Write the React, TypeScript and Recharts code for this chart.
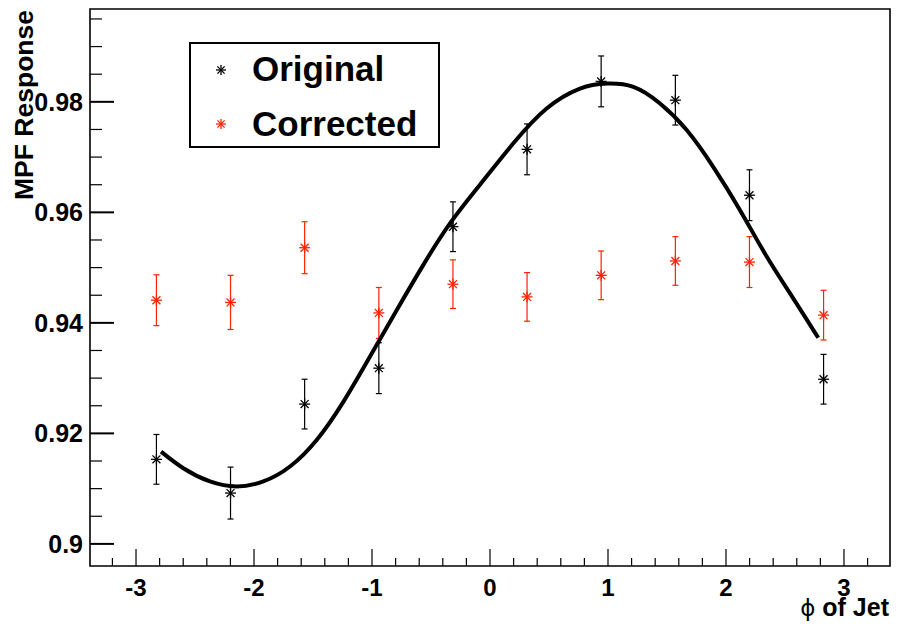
import React from 'react';
import {
  ComposedChart,
  Scatter,
  Line,
  XAxis,
  YAxis,
  ErrorBar,
  ReferenceArea,
  Legend,
} from 'recharts';

// ---- data ----
const phiBins = [-2.827, -2.199, -1.571, -0.942, -0.314, 0.314, 0.942, 1.571, 2.199, 2.827];
const originalValues = [0.9153, 0.9092, 0.9253, 0.9318, 0.9574, 0.9714, 0.9837, 0.9803, 0.9631, 0.9298];
const originalErrors = [0.0045, 0.0047, 0.0045, 0.0046, 0.0045, 0.0046, 0.0046, 0.0045, 0.0046, 0.0045];
const correctedValues = [0.9441, 0.9437, 0.9536, 0.9418, 0.947, 0.9447, 0.9486, 0.9512, 0.951, 0.9414];
const correctedErrors = [0.0046, 0.0049, 0.0047, 0.0046, 0.0044, 0.0044, 0.0044, 0.0044, 0.0046, 0.0045];

const fitPhi = [
  -2.788, -2.599, -2.373, -2.147, -1.921, -1.695, -1.469, -1.243, -1.017, -0.791, -0.565, -0.339,
  -0.085, 0.198, 0.48, 0.763, 0.989, 1.215, 1.441, 1.667, 1.893, 2.119, 2.345, 2.571, 2.782,
];
const fitValues = [
  0.9167, 0.9137, 0.9113, 0.9104, 0.9113, 0.914, 0.9188, 0.9257, 0.9339, 0.9423, 0.9505, 0.958,
  0.965, 0.9725, 0.9788, 0.9824, 0.9833, 0.9827, 0.9797, 0.9749, 0.9682, 0.9604, 0.952,
  0.9444, 0.9373,
];

const xMajorTicks = [-3, -2, -1, 0, 1, 2, 3];
const xTickLabels = ['-3', '-2', '-1', '0', '1', '2', '3'];
const xAllTicks = [
  -3.2, -3, -2.8, -2.6, -2.4, -2.2, -2, -1.8, -1.6, -1.4, -1.2, -1, -0.8, -0.6, -0.4, -0.2, 0,
  0.2, 0.4, 0.6, 0.8, 1, 1.2, 1.4, 1.6, 1.8, 2, 2.2, 2.4, 2.6, 2.8, 3, 3.2,
];
const yMajorTicks = [0.9, 0.92, 0.94, 0.96, 0.98];
const yTickLabels = ['0.9', '0.92', '0.94', '0.96', '0.98'];
const yAllTicks = [
  0.9, 0.905, 0.91, 0.915, 0.92, 0.925, 0.93, 0.935, 0.94, 0.945, 0.95, 0.955, 0.96, 0.965, 0.97,
  0.975, 0.98, 0.985, 0.99, 0.995,
];

const seriesNames = ['Original', 'Corrected'];
const seriesColors = ['#000000', '#ff2200'];

// tables built from arrays
const originalData = phiBins.map((x, i) => ({ x, y: originalValues[i], e: originalErrors[i] }));
const correctedData = phiBins.map((x, i) => ({ x, y: correctedValues[i], e: correctedErrors[i] }));
const fitData = fitPhi.map((x, i) => ({ x, y: fitValues[i] }));

const X_DOMAIN: [number, number] = [-3.39, 3.39];
const Y_DOMAIN: [number, number] = [0.896, 0.9968];
const FONT = '"Liberation Sans", Arial, Helvetica, sans-serif';

const findIndex = (arr: number[], v: number) => arr.findIndex((t) => Math.abs(t - v) < 1e-6);

const XTick = (props: any) => {
  const { x, y, payload } = props;
  const idx = findIndex(xMajorTicks, payload.value);
  const major = idx >= 0;
  return (
    <g>
      <line x1={x} x2={x} y1={y} y2={y - (major ? 17 : 8)} stroke="#000" strokeWidth={1.2} />
      {major && (
        <text
          x={x}
          y={y + 30}
          textAnchor="middle"
          fontFamily={FONT}
          fontWeight="bold"
          fontSize={24}
          fill="#000"
        >
          {xTickLabels[idx]}
        </text>
      )}
    </g>
  );
};

const YTick = (props: any) => {
  const { x, y, payload } = props;
  const idx = findIndex(yMajorTicks, payload.value);
  const major = idx >= 0;
  return (
    <g>
      <line x1={x} x2={x + (major ? 24 : 12)} y1={y} y2={y} stroke="#000" strokeWidth={major ? 2 : 1.2} />
      {major && (
        <text
          x={x - 7}
          y={y + 9}
          textAnchor="end"
          fontFamily={FONT}
          fontWeight="bold"
          fontSize={25}
          fill="#000"
        >
          {yTickLabels[idx]}
        </text>
      )}
    </g>
  );
};

const Asterisk = ({ cx, cy, color, r }: any) => {
  if (cx == null || cy == null) return null;
  const d = r * 0.72;
  return (
    <g stroke={color} strokeWidth={1.3}>
      <line x1={cx - r} x2={cx + r} y1={cy} y2={cy} />
      <line x1={cx} x2={cx} y1={cy - r} y2={cy + r} />
      <line x1={cx - d} x2={cx + d} y1={cy - d} y2={cy + d} />
      <line x1={cx - d} x2={cx + d} y1={cy + d} y2={cy - d} />
    </g>
  );
};

const LegendBox = () => (
  <svg width={252} height={107} style={{ display: 'block' }}>
    <rect x={1} y={1} width={249} height={104} fill="#fff" stroke="#000" strokeWidth={2} />
    {seriesNames.map((name, i) => (
      <g key={name}>
        <Asterisk cx={32} cy={28 + i * 54} r={5} color={seriesColors[i]} />
        <text
          x={63}
          y={39 + i * 55}
          fontFamily={FONT}
          fontWeight="bold"
          fontSize={35}
          fill="#000"
        >
          {name}
        </text>
      </g>
    ))}
  </svg>
);

export default function App() {
  return (
    <div style={{ position: 'absolute', left: 0, top: 0, width: 899, height: 624, background: '#fff' }}>
      <ComposedChart
        width={899}
        height={624}
        margin={{ top: 9, right: 9, bottom: 0, left: 0 }}
        style={{ fontFamily: FONT }}
      >
        <XAxis
          dataKey="x"
          type="number"
          domain={X_DOMAIN}
          ticks={xAllTicks}
          interval={0}
          allowDataOverflow
          height={58}
          tickSize={0}
          tickMargin={0}
          axisLine={false}
          tickLine={false}
          tick={<XTick />}
        />
        <YAxis
          type="number"
          domain={Y_DOMAIN}
          ticks={yAllTicks}
          interval={0}
          allowDataOverflow
          width={90}
          tickSize={0}
          tickMargin={0}
          axisLine={false}
          tickLine={false}
          tick={<YTick />}
        />
        <ReferenceArea
          x1={X_DOMAIN[0]}
          x2={X_DOMAIN[1]}
          y1={Y_DOMAIN[0]}
          y2={Y_DOMAIN[1]}
          fill="none"
          fillOpacity={0}
          stroke="#000"
          strokeWidth={1.6}
          ifOverflow="visible"
        />
        <Scatter
          name={seriesNames[1]}
          data={correctedData}
          dataKey="y"
          isAnimationActive={false}
          shape={(p: any) => <Asterisk cx={p.cx} cy={p.cy} r={5.5} color={seriesColors[1]} />}
        >
          <ErrorBar dataKey="e" direction="y" width={3} stroke={seriesColors[1]} strokeWidth={1.2} isAnimationActive={false} />
        </Scatter>
        <Scatter
          name={seriesNames[0]}
          data={originalData}
          dataKey="y"
          isAnimationActive={false}
          shape={(p: any) => <Asterisk cx={p.cx} cy={p.cy} r={5.5} color={seriesColors[0]} />}
        >
          <ErrorBar dataKey="e" direction="y" width={3} stroke={seriesColors[0]} strokeWidth={1.2} isAnimationActive={false} />
        </Scatter>
        <Line
          data={fitData}
          dataKey="y"
          type="natural"
          dot={false}
          activeDot={false}
          stroke="#000"
          strokeWidth={4}
          isAnimationActive={false}
          legendType="none"
        />
        <Legend
          verticalAlign="middle"
          align="center"
          layout="horizontal"
          wrapperStyle={{ left: 189, top: 42, width: 252, height: 107 }}
          content={() => <LegendBox />}
        />
        <text
          transform="translate(33, 10) rotate(-90)"
          textAnchor="end"
          fontFamily={FONT}
          fontWeight="bold"
          fontSize={26.5}
          fill="#000"
        >
          MPF Response
        </text>
        <text x={889} y={616} textAnchor="end" fontFamily={FONT} fontWeight="bold" fontSize={25} fill="#000">
          <tspan fontWeight="normal" fontFamily='"DejaVu Sans", sans-serif' fontSize={23}>ϕ</tspan>
          <tspan> of Jet</tspan>
        </text>
      </ComposedChart>
    </div>
  );
}
